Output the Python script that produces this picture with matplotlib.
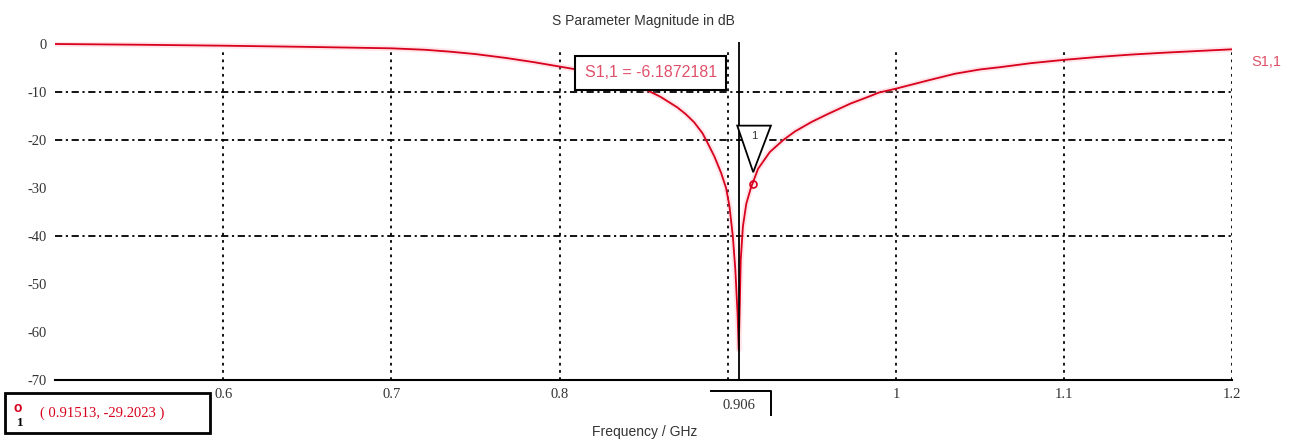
import numpy as np
import matplotlib
matplotlib.use("Agg")
import matplotlib.pyplot as plt
from matplotlib.patches import Polygon, Rectangle

# S1,1 magnitude (GHz, dB)
freq = [0.50, 0.55, 0.60, 0.65, 0.70, 0.72, 0.735, 0.75, 0.768, 0.785, 0.80,
        0.81, 0.82, 0.83, 0.84, 0.852, 0.86, 0.87, 0.875, 0.88, 0.885, 0.888,
        0.892, 0.896, 0.899, 0.901, 0.903, 0.9045, 0.9058, 0.9065, 0.9071,
        0.9077, 0.909, 0.911, 0.9137, 0.918, 0.925, 0.933, 0.94, 0.95, 0.96,
        0.973, 0.985, 0.99, 1.00, 1.02, 1.035, 1.05, 1.0625, 1.08, 1.10, 1.12,
        1.14, 1.16, 1.18, 1.20]
s11 = [0.0, -0.15, -0.35, -0.6, -0.9, -1.2, -1.6, -2.1, -2.9, -3.8, -4.7,
       -5.3, -6.2, -7.3, -8.4, -9.6, -11.0, -13.2, -14.6, -16.3, -18.6, -20.6,
       -23.4, -26.8, -30.0, -33.8, -40.0, -47.0, -56.0, -63.7, -55.0,
       -45.0, -38.0, -33.3, -30.0, -26.0, -22.5, -20.0, -18.2, -16.2, -14.5,
       -12.4, -10.8, -10.1, -9.3, -7.5, -6.2, -5.3, -4.8, -4.0, -3.3, -2.7,
       -2.2, -1.8, -1.45, -1.1]

x_ticks = [0.6, 0.7, 0.8, 1.0, 1.1, 1.2]
x_tick_labels = ["0.6", "0.7", "0.8", "1", "1.1", "1.2"]
x_grid = [0.6, 0.7, 0.8, 0.9, 1.0, 1.1, 1.2]
y_ticks = [0, -10, -20, -30, -40, -50, -60, -70]
y_grid = [-10, -20, -40]

marker_f = 0.9065
marker_pt = (0.91513, -29.2023)
box_value = -6.1872181

red = "#d8001c"
label_red = "#e0506a"

fig = plt.figure(figsize=(12.98, 4.43), dpi=100)
ax = fig.add_axes([0.0424, 0.142, 0.907, 0.763])

for g in x_grid:
    ax.plot([g, g], [-70, -0.8], color="black", lw=1.3, ls=(0, (1.5, 2.5)), zorder=1)
for g in y_grid:
    ax.plot([0.5, 1.2], [g, g], color="black", lw=1.3, ls=(0, (4, 2, 1.2, 2)), zorder=1)

ax.plot(freq, s11, color="#ff9aa8", lw=4, alpha=0.25, zorder=2)
ax.plot(freq, s11, color=red, lw=1.3, zorder=3)

# marker line
ax.plot([marker_f, marker_f], [-70, 0.4], color="black", lw=1.3, zorder=4)

# marker triangle "1"
mx, my = marker_pt
tri = Polygon([[mx - 0.0095, my + 12.2], [mx + 0.0105, my + 12.2], [mx, my + 2.5]],
              closed=True, fill=True, facecolor="white", edgecolor="black", lw=1.3, zorder=5)
ax.add_patch(tri)
ax.text(mx + 0.0005, my + 10.0, "1", ha="center", va="center", fontsize=8,
        family="Liberation Sans", color="#333333", zorder=6)
ax.plot([mx], [my], marker="o", ms=5, mfc="none", mec=red, mew=1.2, zorder=6)

# value box
ax.text(0.8542, -6.0, "S1,1 = %.7f" % box_value, ha="center", va="center",
        fontsize=11.5, family="Liberation Sans", color=label_red, zorder=6,
        bbox=dict(boxstyle="square,pad=0.6", fc="white", ec="black", lw=1.5))

ax.text(1.2115, -3.8, "S1,1", ha="left", va="center", fontsize=10.5,
        family="Liberation Sans", color=label_red)

ax.set_xlim(0.5, 1.2)
ax.set_ylim(-70, 0.4)
ax.set_xticks(x_ticks)
ax.set_xticklabels(x_tick_labels)
ax.set_yticks(y_ticks)
ax.set_yticklabels([str(v) for v in y_ticks])
ax.tick_params(axis="both", length=0, labelsize=10.5, colors="#333333", pad=6)
for lab in ax.get_xticklabels() + ax.get_yticklabels():
    lab.set_family("Liberation Serif")
for s in ["top", "right", "left"]:
    ax.spines[s].set_visible(False)
ax.spines["bottom"].set_linewidth(1.5)
ax.patch.set_alpha(0)

ax.set_title("S Parameter Magnitude in dB", fontsize=10, family="Liberation Sans",
             color="#333333", pad=12)
fig.text(0.497, 0.025, "Frequency / GHz", ha="center", va="center", fontsize=10,
         family="Liberation Sans", color="#333333")

# marker frequency label on the axis
ax.text(marker_f, -75.3, "0.906", ha="center", va="center", fontsize=10.5,
        family="Liberation Serif", color="#333333", clip_on=False)
ax.plot([0.8899, 0.9256, 0.9256], [-72.2, -72.2, -77.3], color="black", lw=1.4,
        clip_on=False)

# bottom-left marker readout
fig.patches.append(Rectangle((5 / 1298, 1 - 433 / 443), 205 / 1298, 40 / 443,
                             transform=fig.transFigure, fc="white", ec="black", lw=2))
fig.text(40 / 1298, 1 - 413 / 443, "( %.5f, %.4f )" % marker_pt, ha="left", va="center",
         fontsize=10.5, family="Liberation Serif", color=red)
fig.text(18 / 1298, 1 - 408 / 443, "o", ha="center", va="center", fontsize=10, color=red,
         family="Liberation Sans", weight="bold")
fig.text(20 / 1298, 1 - 423 / 443, "1", ha="center", va="center", fontsize=9.5,
         color="black", family="Liberation Serif", weight="bold")

fig.savefig("out.png", dpi=100)
